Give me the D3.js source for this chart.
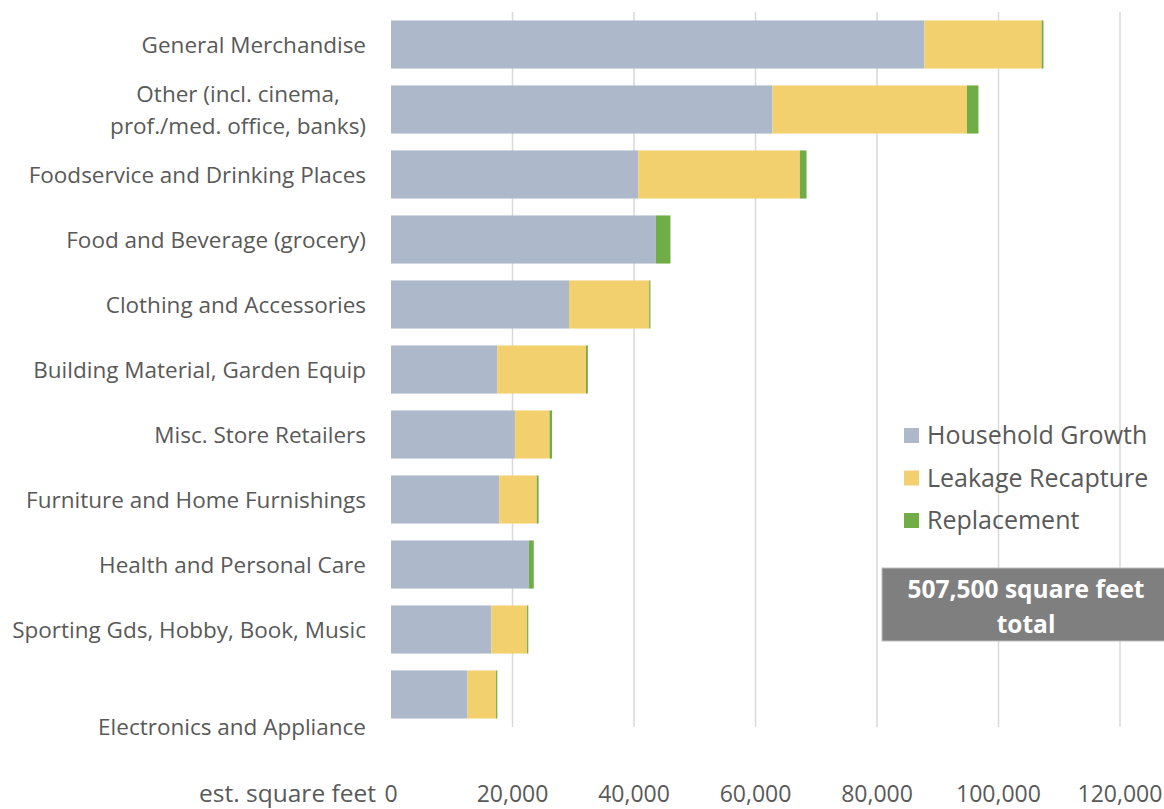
<!DOCTYPE html>
<html>
<head>
<meta charset="utf-8">
<script src="https://cdn.jsdelivr.net/npm/d3@7"></script>
<style>
  body { margin: 0; background: #fff; }
  text { font-family: "Open Sans", "Segoe UI", sans-serif; fill: #595959; }
</style>
</head>
<body>
<svg id="chart"></svg>
<script>
// categories, top to bottom (line breaks as in the source chart)
const categories = [
  "General Merchandise",
  "Other (incl. cinema,\nprof./med. office, banks)",
  "Foodservice and Drinking Places",
  "Food and Beverage (grocery)",
  "Clothing and Accessories",
  "Building Material, Garden Equip",
  "Misc. Store Retailers",
  "Furniture and Home Furnishings",
  "Health and Personal Care",
  "Sporting Gds, Hobby, Book, Music",
  "\n\nElectronics and Appliance"
];

const seriesNames = ["Household Growth", "Leakage Recapture", "Replacement"];
const seriesColors = ["#adb9ca", "#f2d06e", "#70ad47"];

// est. square feet per category
const householdGrowth = [87800, 62800, 40700, 43600, 29300, 17500, 20400, 17800, 22700, 16500, 12600];
const leakageRecapture = [19300, 32000, 26600, 0, 13200, 14600, 5700, 6200, 0, 5900, 4700];
const replacement = [300, 1900, 1100, 2400, 200, 300, 400, 300, 800, 200, 200];

const xTicks = [0, 20000, 40000, 60000, 80000, 100000, 120000];
const axisTitle = "est. square feet";
const totalNote = ["507,500 square feet", "total"];

const width = 1164, height = 809;
const svg = d3.select("#chart").attr("width", width).attr("height", height);

const rows = categories.map((c, i) => ({
  cat: c,
  "Household Growth": householdGrowth[i],
  "Leakage Recapture": leakageRecapture[i],
  "Replacement": replacement[i]
}));

const series = d3.stack().keys(seriesNames)(rows);

const x = d3.scaleLinear().domain([0, 120000]).range([391, 1120]);
const y = d3.scaleBand().domain(categories).range([12, 727])
  .paddingInner(0.26).paddingOuter(0.13);

const color = d3.scaleOrdinal().domain(seriesNames).range(seriesColors);

// gridlines
svg.append("g")
  .selectAll("line")
  .data(xTicks.slice(1))
  .join("line")
    .attr("x1", d => x(d)).attr("x2", d => x(d))
    .attr("y1", 12).attr("y2", 727)
    .attr("stroke", "#d9d9d9")
    .attr("stroke-width", 1.5);

// bars
svg.append("g")
  .selectAll("g")
  .data(series)
  .join("g")
    .attr("fill", d => color(d.key))
  .selectAll("rect")
  .data(d => d)
  .join("rect")
    .attr("x", d => x(d[0]))
    .attr("y", d => y(d.data.cat))
    .attr("width", d => Math.max(0, x(d[1]) - x(d[0])))
    .attr("height", y.bandwidth());

// x tick labels
const fmt = d3.format(",");
svg.append("g")
  .selectAll("text")
  .data(xTicks)
  .join("text")
    .attr("x", d => x(d))
    .attr("y", 802)
    .attr("text-anchor", "middle")
    .attr("font-size", 23)
    .text(d => fmt(d));

svg.append("text")
  .attr("x", 376)
  .attr("y", 802)
  .attr("text-anchor", "end")
  .attr("font-size", 24.5)
  .text(axisTitle);

// category labels: block right-aligned, lines centred within block
const lineH = 32;
const labelG = svg.append("g");
categories.forEach(c => {
  const lines = c.split("\n");
  const cy = y(c) + y.bandwidth() / 2;
  const t = labelG.append("text")
    .attr("font-size", 22.5)
    .attr("text-anchor", "middle");
  lines.forEach((l, i) => {
    t.append("tspan")
      .attr("y", cy + (i - (lines.length - 1) / 2) * lineH + 8)
      .text(l);
  });
  let maxW = 0;
  t.selectAll("tspan").each(function () {
    maxW = Math.max(maxW, this.getComputedTextLength());
  });
  t.selectAll("tspan").attr("x", 366 - maxW / 2);
});

// legend
const legend = svg.append("g")
  .selectAll("g")
  .data(seriesNames)
  .join("g")
    .attr("transform", (d, i) => `translate(904, ${435 + i * 42.5})`);
legend.append("rect")
  .attr("x", 0).attr("y", -7)
  .attr("width", 15).attr("height", 15)
  .attr("fill", d => color(d));
legend.append("text")
  .attr("x", 23).attr("y", 9)
  .attr("font-size", 25)
  .text(d => d);

// total note box
svg.append("rect")
  .attr("x", 882).attr("y", 568)
  .attr("width", 300).attr("height", 73)
  .attr("fill", "#7f7f7f")
  .attr("stroke", "#bfbfbf")
  .attr("stroke-width", 1);
svg.append("g")
  .selectAll("text")
  .data(totalNote)
  .join("text")
    .attr("x", 1026)
    .attr("y", (d, i) => 598 + i * 35)
    .attr("text-anchor", "middle")
    .attr("font-size", 24.5)
    .attr("font-weight", "bold")
    .style("fill", "#fff")
    .text(d => d);
</script>
</body>
</html>
